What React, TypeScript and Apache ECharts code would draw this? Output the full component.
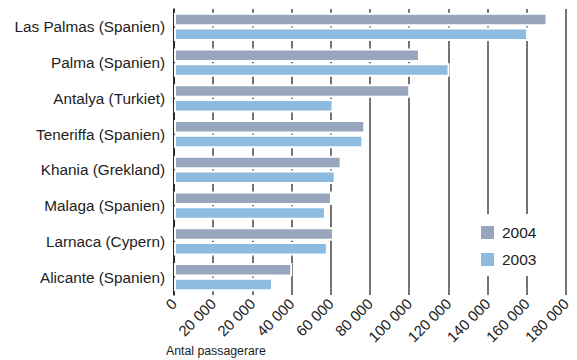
import React, { useEffect, useRef } from "react";
import * as echarts from "echarts";

// Destinations, top to bottom
const destinations = [
  "Las Palmas (Spanien)",
  "Palma (Spanien)",
  "Antalya (Turkiet)",
  "Teneriffa (Spanien)",
  "Khania (Grekland)",
  "Malaga (Spanien)",
  "Larnaca (Cypern)",
  "Alicante (Spanien)",
];

// Passengers per destination
const passengers2004 = [190600, 125500, 120500, 97600, 85500, 80600, 81600, 60300];
const passengers2003 = [180600, 140600, 81400, 96600, 82500, 77500, 78500, 50500];

// Tick labels as printed along the value axis
const tickLabels = [
  "0",
  "20 000",
  "20 000",
  "40 000",
  "60 000",
  "80 000",
  "100 000",
  "120 000",
  "140 000",
  "160 000",
  "180 000",
];

const seriesNames = ["2004", "2003"];
const FONT = "Liberation Sans, Arial, Helvetica, sans-serif";

export default function App() {
  const ref = useRef<HTMLDivElement>(null);

  useEffect(() => {
    if (!ref.current) return;
    const chart = echarts.init(ref.current, null, { renderer: "svg" });
    const step = 20000;
    // white bar outline keeps the grid lines clear of the bars
    const barStyle = (color: string) => ({ color, borderColor: "#ffffff", borderWidth: 2 });
    chart.setOption({
      animation: false,
      backgroundColor: "#ffffff",
      textStyle: { fontFamily: FONT },
      grid: { left: 174, top: 9, width: 392, height: 286, containLabel: false },
      legend: {
        orient: "vertical",
        left: 469,
        top: 214,
        padding: [10, 10, 8, 10],
        backgroundColor: "#ffffff",
        itemWidth: 15,
        itemHeight: 15,
        itemGap: 10,
        icon: "rect",
        data: seriesNames,
        textStyle: { fontFamily: FONT, fontSize: 15.5, color: "#222", padding: [0, 0, 0, 2] },
      },
      xAxis: {
        type: "value",
        min: 0,
        max: step * (tickLabels.length - 1),
        interval: step,
        axisLine: { show: false },
        axisTick: { show: false },
        splitLine: { show: true, lineStyle: { color: "#444", width: 1.5 } },
        axisLabel: {
          rotate: 45,
          margin: 6,
          fontSize: 15,
          color: "#222",
          fontFamily: FONT,
          formatter: (v: number) => tickLabels[Math.round(v / step)] ?? "",
        },
      },
      yAxis: {
        type: "category",
        inverse: true,
        data: destinations,
        axisLine: { show: true, lineStyle: { color: "#111", width: 1.5 } },
        axisTick: { show: false },
        axisLabel: { fontSize: 15.3, color: "#222", margin: 9, fontFamily: FONT },
      },
      series: [
        {
          name: seriesNames[0],
          type: "bar",
          data: passengers2004,
          barWidth: 13.5,
          barGap: "9%",
          itemStyle: barStyle("#97a6bd"),
        },
        {
          name: seriesNames[1],
          type: "bar",
          data: passengers2003,
          barWidth: 13.5,
          barGap: "9%",
          itemStyle: barStyle("#8dbbe0"),
        },
      ],
      graphic: [
        {
          type: "text",
          left: 166,
          top: 345,
          style: { text: "Antal passagerare", fontSize: 12.3, fill: "#222", fontFamily: FONT },
        },
      ],
    });
    return () => chart.dispose();
  }, []);

  return (
    <div
      ref={ref}
      style={{ position: "absolute", left: 0, top: 0, width: 577, height: 360 }}
    />
  );
}
